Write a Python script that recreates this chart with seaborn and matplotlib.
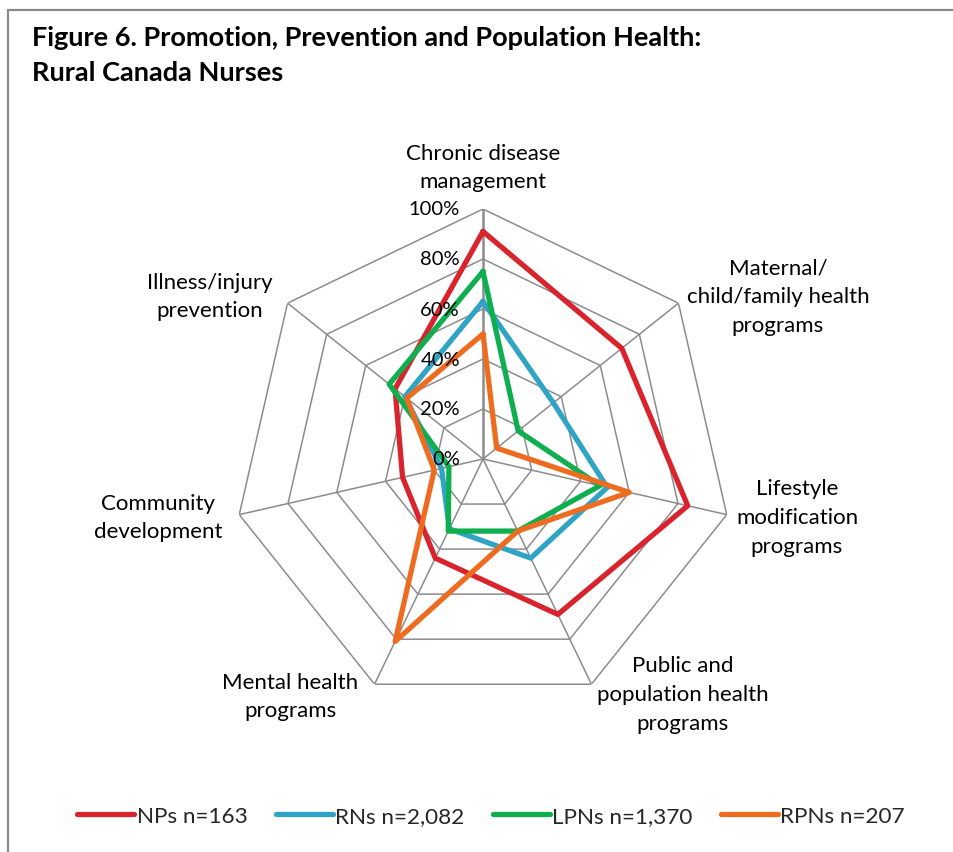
import numpy as np
import pandas as pd
import matplotlib
matplotlib.use("Agg")
import matplotlib.pyplot as plt
import seaborn as sns

categories = [
    "Chronic disease\nmanagement",
    "Maternal/\nchild/family health\nprograms",
    "Lifestyle\nmodification\nprograms",
    "Public and\npopulation health\nprograms",
    "Mental health\nprograms",
    "Community\ndevelopment",
    "Illness/injury\nprevention",
]
series_names = ["NPs n=163", "RNs n=2,082", "LPNs n=1,370", "RPNs n=207"]
nps = [91, 71, 84, 69, 44, 33, 45]
rns = [63, 36, 51, 44, 31, 17, 40]
lpns = [75, 18, 48, 32, 32, 14, 48]
rpns = [50, 7, 60, 32, 81, 20, 39]
tick_labels = ["0%", "20%", "40%", "60%", "80%", "100%"]
tick_values = [0, 20, 40, 60, 80, 100]
colors = ["#D9232D", "#30A4C4", "#0FAF50", "#EE6C20"]

sns.set_theme(style="white")
plt.rcParams["font.family"] = ["Lato", "DejaVu Sans"]

W, H = 954, 853
fig = plt.figure(figsize=(W / 100, H / 100), dpi=100)
fig.patch.set_facecolor("white")

def px(x, y):
    return x / W, 1 - y / H

# frame
fig.add_artist(plt.Line2D([8 / W, 8 / W], [0, 1 - 11 / H], color="#8a8a8a", lw=1.6))
fig.add_artist(plt.Line2D([8 / W, 1], [1 - 11 / H, 1 - 11 / H], color="#8a8a8a", lw=1.6))

# title
fig.text(*px(32, 38), "Figure 6. Promotion, Prevention and Population Health:",
         fontsize=19.5, fontweight="bold", ha="left", va="center", color="black")
fig.text(*px(32, 73), "Rural Canada Nurses",
         fontsize=19.5, fontweight="bold", ha="left", va="center", color="black")

cx, cy, R = 483, 460, 250
ax = fig.add_axes([(cx - R) / W, (H - cy - R) / H, 2 * R / W, 2 * R / H], projection="polar")
ax.set_theta_offset(np.pi / 2)
ax.set_theta_direction(-1)
ax.set_ylim(0, 100)
ax.grid(False)
ax.spines["polar"].set_visible(False)
ax.set_xticks([])
ax.set_yticks([])
ax.set_facecolor("none")

n = len(categories)
theta = np.arange(n) * 2 * np.pi / n
theta_c = np.append(theta, theta[0])

grid_color = "#8c8c8c"
for v in tick_values[1:]:
    ax.plot(theta_c, [v] * (n + 1), color=grid_color, lw=1.1, zorder=1)
for i, t in enumerate(theta):
    ax.plot([t, t], [0, 100], color=grid_color, lw=1.8 if i == 0 else 1.1, zorder=1)

rows = []
for name, vals in zip(series_names, [nps, rns, lpns, rpns]):
    vv = list(vals) + [vals[0]]
    for k, (t, v) in enumerate(zip(theta_c, vv)):
        rows.append({"series": name, "theta": t, "value": v, "order": k})
df = pd.DataFrame(rows)

sns.lineplot(data=df, x="theta", y="value", hue="series", hue_order=series_names,
             palette=colors, sort=False, estimator=None, lw=3.8, ax=ax, zorder=3,
             legend=True)
ax.set_xlabel("")
ax.set_ylabel("")
handles, labels = ax.get_legend_handles_labels()
ax.get_legend().remove()
for h in handles:
    h.set_linewidth(3.8)
    h.set_solid_capstyle("round")

fig.legend(handles, labels, loc="center", bbox_to_anchor=px(491, 817), ncol=4,
           frameon=False, fontsize=16.2, handlelength=2.55, handletextpad=0.1,
           columnspacing=1.25)

# percentage tick labels
for v, lab in zip(tick_values, tick_labels):
    fig.text(*px(460, cy - R * v / 100), lab, fontsize=14.5, ha="right", va="center",
             color="black")

# category labels
label_pos = [(483, 168), (778, 297), (797, 518), (683, 695), (290, 697), (158, 518), (210, 297)]
for lab, (x, y) in zip(categories, label_pos):
    fig.text(*px(x, y), lab, fontsize=16, ha="center", va="center", color="black",
             linespacing=1.55)

fig.savefig("out.png", dpi=100, facecolor="white")
